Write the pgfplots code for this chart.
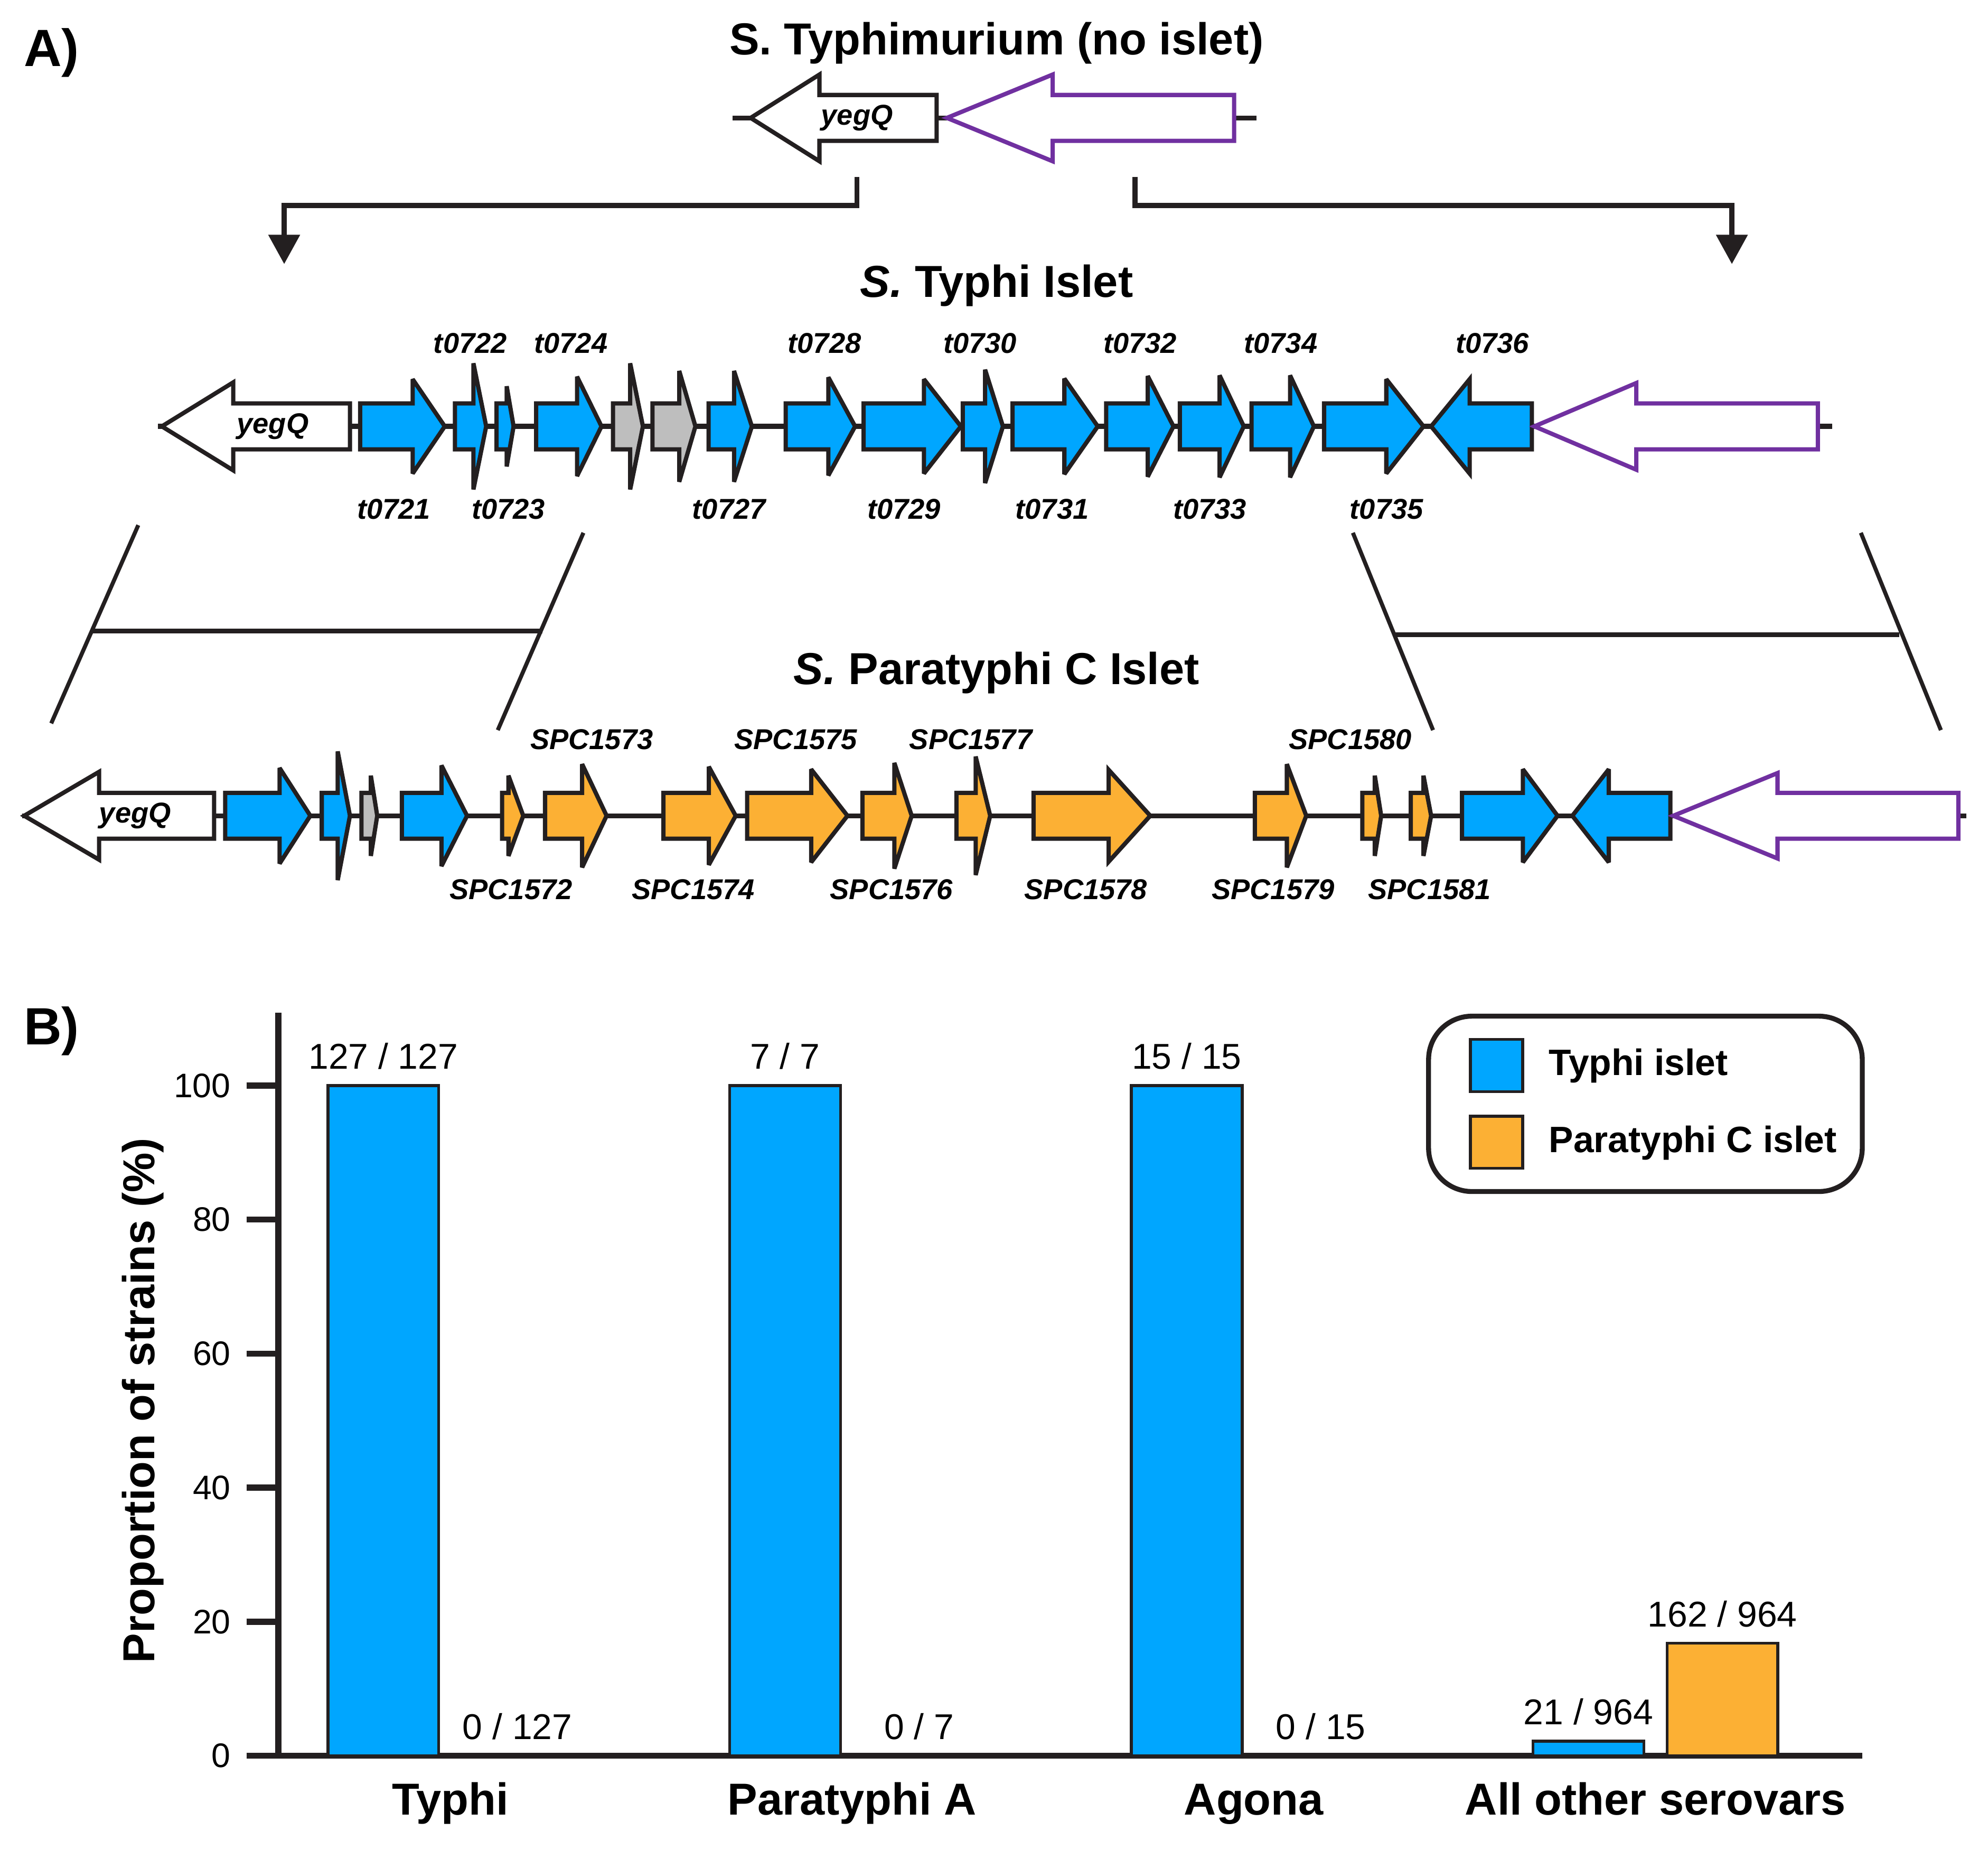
\documentclass[border=0pt]{standalone}
\usepackage{fontspec}
\setmainfont{Liberation Sans}
\usepackage{pgfplots}
\pgfplotsset{compat=1.18}
\usetikzlibrary{arrows.meta}

\definecolor{gblue}{RGB}{0,166,255}
\definecolor{gorange}{RGB}{252,176,52}
\definecolor{ggrey}{RGB}{190,190,190}
\definecolor{gpurple}{RGB}{112,48,160}
\definecolor{outl}{RGB}{35,31,32}

\tikzset{
  gene/.style={draw=outl, line width=0.95pt, line join=miter, miter limit=3},
  glab/.style={font=\fontsize{6.4}{7.7}\selectfont\bfseries\itshape, anchor=base, inner sep=0pt},
  ttl/.style={font=\fontsize{10}{12}\selectfont\bfseries, anchor=base, inner sep=0pt},
  panel/.style={font=\fontsize{11.7}{14}\selectfont\bfseries, anchor=base west, inner sep=0pt},
}

% gene pointing right: style, y centre, left end, head base, tip, head half height
\newcommand\rgene[6]{%
  \pgfmathsetmacro\ya{#2-18}\pgfmathsetmacro\yb{#2+18}%
  \pgfmathsetmacro\ha{#2-#6}\pgfmathsetmacro\hb{#2+#6}%
  \edef\tmp{\noexpand\draw[gene, #1] (#3,\ya) -- (#4,\ya) -- (#4,\ha) -- (#5,#2)
    -- (#4,\hb) -- (#4,\yb) -- (#3,\yb) -- cycle;}\tmp}
% gene pointing left: style, y centre, tip, head base, right end, head half height
\newcommand\lgene[6]{%
  \pgfmathsetmacro\ya{#2-18}\pgfmathsetmacro\yb{#2+18}%
  \pgfmathsetmacro\ha{#2-#6}\pgfmathsetmacro\hb{#2+#6}%
  \edef\tmp{\noexpand\draw[gene, #1] (#5,\ya) -- (#4,\ya) -- (#4,\ha) -- (#3,#2)
    -- (#4,\hb) -- (#4,\yb) -- (#5,\yb) -- cycle;}\tmp}

\begin{document}
\begin{tikzpicture}

% ---------- panel A: gene maps ----------
\begin{axis}[
  at={(0,0)}, anchor=south west,
  scale only axis, width=156mm, height=145.1mm,
  xmin=0, xmax=1560, ymin=0, ymax=1451, y dir=reverse,
  hide axis, clip=false,
]
\node[panel] at (18,52) {A)};
\node[panel] at (18,819.7) {B)};

% S. Typhimurium
\node[ttl] at (782,43) {S. Typhimurium (no islet)};
\draw[outl, line width=1.1pt] (575,92.5) -- (986,92.5);
\lgene{fill=white}{92.5}{589}{643}{735}{34}
\lgene{fill=white, draw=gpurple}{92.5}{743}{826}{968.4}{34}
\node[glab, anchor=center] at (672.5,92.5) {yegQ};

% brackets
\draw[outl, line width=1.15pt, -{Triangle[length=2.3mm, width=2.4mm]}]
  (672.4,138.7) -- (672.4,161.2) -- (223,161.2) -- (223,207.2);
\draw[outl, line width=1.15pt, -{Triangle[length=2.3mm, width=2.4mm]}]
  (890.6,138.7) -- (890.6,161.2) -- (1359,161.2) -- (1359,207.2);

% S. Typhi islet
\node[ttl] at (782,233) {\textit{S.} Typhi Islet};
\draw[outl, line width=1.1pt] (124,334.5) -- (1437.5,334.5);
\lgene{fill=white}{334.5}{127}{183}{274.6}{34.5}
\rgene{fill=gblue}{334.5}{282.6}{323.8}{349}{37}
\rgene{fill=gblue}{334.5}{357}{371.5}{381.5}{49.5}
\rgene{fill=gblue}{334.5}{389.6}{397.6}{403}{31.5}
\rgene{fill=gblue}{334.5}{420.7}{452.8}{472}{39}
\rgene{fill=ggrey}{334.5}{481}{494.5}{504.5}{49.5}
\rgene{fill=ggrey}{334.5}{512}{533}{545.7}{43.5}
\rgene{fill=gblue}{334.5}{556}{576}{590}{43.5}
\rgene{fill=gblue}{334.5}{616.5}{650}{671}{38.5}
\rgene{fill=gblue}{334.5}{677.7}{725}{754}{37}
\rgene{fill=gblue}{334.5}{755.5}{773}{787}{44.5}
\rgene{fill=gblue}{334.5}{794.5}{835.2}{861.4}{37.5}
\rgene{fill=gblue}{334.5}{868}{900.6}{920.8}{39.5}
\rgene{fill=gblue}{334.5}{925.8}{957}{976}{40}
\rgene{fill=gblue}{334.5}{982.1}{1012.3}{1031}{40}
\rgene{fill=gblue}{334.5}{1039}{1087.8}{1117}{37}
\lgene{fill=gblue}{334.5}{1123}{1153.2}{1202}{37}
\lgene{fill=white, draw=gpurple}{334.5}{1204}{1284}{1426.5}{34}
\node[glab, anchor=center] at (214,334.5) {yegQ};
\node[glab] at (369,277) {t0722};
\node[glab] at (448,277) {t0724};
\node[glab] at (647,277) {t0728};
\node[glab] at (769,277) {t0730};
\node[glab] at (894.6,277) {t0732};
\node[glab] at (1005,277) {t0734};
\node[glab] at (1171,277) {t0736};
\node[glab] at (309,407) {t0721};
\node[glab] at (399,407) {t0723};
\node[glab] at (572,407) {t0727};
\node[glab] at (709.4,407) {t0729};
\node[glab] at (825.6,407) {t0731};
\node[glab] at (949.4,407) {t0733};
\node[glab] at (1088,407) {t0735};

% expansion lines
\draw[outl, line width=0.9pt] (108.5,412) -- (40.2,567.5);
\draw[outl, line width=0.9pt] (457.8,418) -- (390.6,572.8);
\draw[outl, line width=1.1pt] (72.8,495.1) -- (425.7,495.1);
\draw[outl, line width=0.9pt] (1061.6,418) -- (1124.5,572.8);
\draw[outl, line width=0.9pt] (1460.2,418) -- (1523,572.8);
\draw[outl, line width=1.1pt] (1094.4,498) -- (1490.4,498);

% S. Paratyphi C islet
\node[ttl] at (782,537) {\textit{S.} Paratyphi C Islet};
\draw[outl, line width=1.1pt] (17.6,640) -- (1543,640);
\lgene{fill=white}{640}{19}{77.8}{168}{34.5}
\rgene{fill=gblue}{640}{176.7}{219.4}{243.5}{37.5}
\rgene{fill=gblue}{640}{252.5}{265}{274.6}{50.5}
\rgene{fill=ggrey}{640}{283.6}{291}{296}{31.5}
\rgene{fill=gblue}{640}{315.3}{346.4}{366.5}{39.5}
\rgene{fill=gorange}{640}{394}{399}{410.6}{31.5}
\rgene{fill=gorange}{640}{427.7}{456.8}{476}{40.5}
\rgene{fill=gorange}{640}{520.6}{556.2}{577.3}{38.5}
\rgene{fill=gorange}{640}{586.3}{636.5}{665}{36.5}
\rgene{fill=gorange}{640}{676.7}{701.8}{715.4}{41.5}
\rgene{fill=gorange}{640}{750.5}{765.6}{777}{46.5}
\rgene{fill=gorange}{640}{811}{870}{902.6}{36}
\rgene{fill=gorange}{640}{984.7}{1009.8}{1025}{40.5}
\rgene{fill=gorange}{640}{1069}{1078.8}{1083.8}{31.5}
\rgene{fill=gorange}{640}{1107}{1117}{1123}{31.5}
\rgene{fill=gblue}{640}{1147.2}{1195}{1222.2}{36.5}
\lgene{fill=gblue}{640}{1233.8}{1262.4}{1310.7}{36.5}
\lgene{fill=white, draw=gpurple}{640}{1313}{1394.8}{1536.7}{33.5}
\node[glab, anchor=center] at (106,640) {yegQ};
\node[glab] at (464.3,588) {SPC1573};
\node[glab] at (624.4,588) {SPC1575};
\node[glab] at (761.8,588) {SPC1577};
\node[glab] at (1059.6,588) {SPC1580};
\node[glab] at (401,705.5) {SPC1572};
\node[glab] at (544,705.5) {SPC1574};
\node[glab] at (699.5,705.5) {SPC1576};
\node[glab] at (852,705.5) {SPC1578};
\node[glab] at (999,705.5) {SPC1579};
\node[glab] at (1121.8,705.5) {SPC1581};

\coordinate (bsw) at (218.4,1377.5);
\end{axis}

% ---------- panel B: prevalence ----------
\begin{axis}[
  at={(bsw)}, anchor=south west,
  scale only axis, width=124.28mm, height=58.32mm,
  xmin=-0.4283, xmax=3.5146, ymin=0, ymax=110.9,
  axis lines=left,
  axis line style={-, line width=1.35pt, outl},
  ybar, bar width=0.276,
  xtick={0,1,2,3},
  xticklabels={Typhi,Paratyphi A,Agona,All other serovars},
  ytick={0,20,...,100},
  tick align=outside, major tick length=2.5mm,
  ytick style={line width=1.35pt, outl},
  xtick style={draw=none},
  tick label style={font=\fontsize{7.6}{9}\selectfont},
  /pgf/number format/assume math mode=true,
  xticklabel style={font=\fontsize{10}{12}\selectfont\bfseries, anchor=base, yshift=-2.15mm},
  ylabel={Proportion of strains (\%)},
  every axis y label/.style={at={(rel axis cs:-0.0856,0.478)}, rotate=90, anchor=center,
    font=\fontsize{10}{12}\selectfont\bfseries},
  nodes near coords, point meta=explicit symbolic,
  every node near coord/.append style={font=\fontsize{8}{9.6}\selectfont, anchor=base, yshift=1.3mm, text=black},
  legend cell align=left,
  legend style={at={(0.7247,0.9983)}, anchor=north west, draw=outl, line width=1.1pt,
    rounded corners=3.4mm, inner xsep=2.0mm, inner ysep=1.7mm, row sep=1.7mm,
    font=\fontsize{8.2}{9.8}\selectfont\bfseries, nodes={inner sep=0pt},
    /tikz/every odd column/.append style={column sep=1.95mm}},
  legend image code/.code={\path (0,0);
    \draw[#1, line width=0.65pt, sharp corners] (1.17mm,-2.05mm) rectangle (5.27mm,2.05mm);},
]
\addplot[fill=gblue, draw=outl, line width=0.65pt, bar shift=-0.1669]
  coordinates {(0,100) [127 / 127] (1,100) [7 / 7] (2,100) [15 / 15] (3,2.18) [21 / 964]};
\addlegendentry{Typhi islet}
\addplot[fill=gorange, draw=outl, line width=0.65pt, bar shift=0.1669]
  coordinates {(0,0) [0 / 127] (1,0) [0 / 7] (2,0) [0 / 15] (3,16.8) [162 / 964]};
\addlegendentry{Paratyphi C islet}
\end{axis}

\pgfresetboundingbox
\path (0,0) rectangle (156mm,145.1mm);
\end{tikzpicture}
\end{document}
